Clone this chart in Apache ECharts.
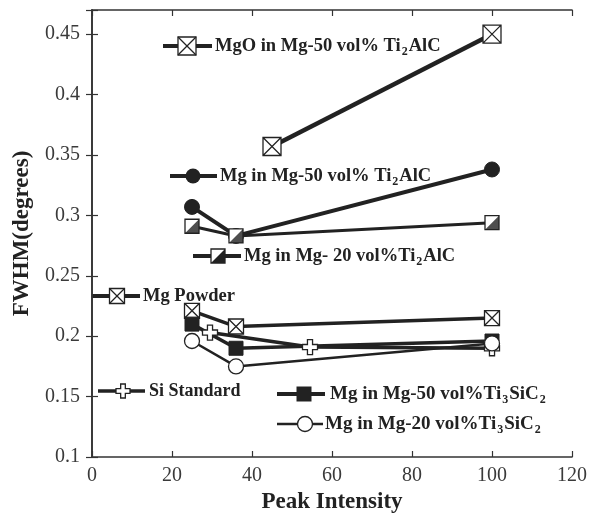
<!DOCTYPE html>
<html><head><meta charset="utf-8">
<script src="https://cdn.jsdelivr.net/npm/echarts@6/dist/echarts.min.js"></script>
<style>html,body{margin:0;padding:0;background:#fff}#c{width:591px;height:521px}</style>
</head><body><div id="c"></div>
<script>
// ---- data ----
const xTickValues = [0, 20, 40, 60, 80, 100, 120];
const yTickValues = [0.1, 0.15, 0.2, 0.25, 0.3, 0.35, 0.4, 0.45];

const mgoX = [45, 100];
const mgoY = [0.357, 0.45];
const mg50Ti2AlCX = [25, 36, 100];
const mg50Ti2AlCY = [0.307, 0.283, 0.338];
const mg20Ti2AlCX = [25, 36, 100];
const mg20Ti2AlCY = [0.291, 0.283, 0.294];
const mgPowderX = [25, 36, 100];
const mgPowderY = [0.221, 0.208, 0.215];
const mg50Ti3SiC2X = [25, 36, 100];
const mg50Ti3SiC2Y = [0.210, 0.190, 0.196];
const siStdX = [29.5, 54.5, 100];
const siStdY = [0.203, 0.191, 0.190];
const mg20Ti3SiC2X = [25, 36, 100];
const mg20Ti3SiC2Y = [0.196, 0.175, 0.194];

const names = {
  mgo: 'MgO in Mg-50 vol% Ti{s|2}AlC',
  mg50Ti2AlC: 'Mg in Mg-50 vol% Ti{s|2}AlC',
  mg20Ti2AlC: 'Mg in Mg- 20 vol%Ti{s|2}AlC',
  mgPowder: 'Mg Powder',
  siStd: 'Si Standard',
  mg50Ti3SiC2: 'Mg in Mg-50 vol%Ti{s|3}SiC{s|2}',
  mg20Ti3SiC2: 'Mg in Mg-20 vol%Ti{s|3}SiC{s|2}'
};

// ---- styling ----
const INK = '#222';
const SERIF = '"Liberation Serif", "Times New Roman", serif';
const zip = (xs, ys) => xs.map((x, i) => [x, ys[i]]);
const P_BOXX = 'path://M0,0 L10,0 L10,10 L0,10 Z M0,0 L10,10 M10,0 L0,10';
const P_TRI = 'path://M10,0 L10,10 L0,10 Z';
const P_PLUS = 'path://M3.3,0 L6.7,0 L6.7,3.3 L10,3.3 L10,6.7 L6.7,6.7 L6.7,10 L3.3,10 L3.3,6.7 L0,6.7 L0,3.3 L3.3,3.3 Z';

function lineSeries(name, xs, ys, symbol, size, fill, lw, bw) {
  return {
    type: 'line', name: name, data: zip(xs, ys),
    symbol: symbol, symbolSize: size, showSymbol: true,
    lineStyle: { color: INK, width: lw },
    itemStyle: { color: fill, borderColor: INK, borderWidth: bw },
    emphasis: { disabled: true }, animation: false
  };
}

const series = [
  lineSeries('MgO', mgoX, mgoY, P_BOXX, 18, '#fff', 4.5, 1.3),
  lineSeries('Mg50Ti2AlC', mg50Ti2AlCX, mg50Ti2AlCY, 'circle', 15, INK, 4, 1),
  lineSeries('Mg20Ti2AlC', mg20Ti2AlCX, mg20Ti2AlCY, 'rect', 14, '#fff', 3, 1.3),
  {
    type: 'scatter', name: 'Mg20Ti2AlC-half', data: zip(mg20Ti2AlCX, mg20Ti2AlCY),
    symbol: P_TRI, symbolSize: 14, itemStyle: { color: INK }, z: 3, silent: true, animation: false
  },
  lineSeries('MgPowder', mgPowderX, mgPowderY, P_BOXX, 15, '#fff', 3.5, 1.3),
  lineSeries('Mg50Ti3SiC2', mg50Ti3SiC2X, mg50Ti3SiC2Y, 'rect', 14, INK, 3.5, 1),
  lineSeries('SiStd', siStdX, siStdY, P_PLUS, 15, '#fff', 3.5, 1.3),
  lineSeries('Mg20Ti3SiC2', mg20Ti3SiC2X, mg20Ti3SiC2Y, 'circle', 15, '#fff', 2.5, 1.3)
];

// ---- in-plot legend keys (graphic) ----
const richSub = { s: { fontSize: 12, fontWeight: 'bold', fontFamily: SERIF, fill: INK, padding: [12, 1, 0, 1] } };
function symbolShapes(kind, cx, cy, sz) {
  const h = sz / 2, st = { stroke: INK, lineWidth: 1.3 };
  switch (kind) {
    case 'boxx': return [
      { type: 'rect', shape: { x: cx - h, y: cy - h, width: sz, height: sz }, style: Object.assign({ fill: '#fff' }, st) },
      { type: 'line', shape: { x1: cx - h, y1: cy - h, x2: cx + h, y2: cy + h }, style: st },
      { type: 'line', shape: { x1: cx + h, y1: cy - h, x2: cx - h, y2: cy + h }, style: st }];
    case 'dot': return [{ type: 'circle', shape: { cx: cx, cy: cy, r: h }, style: { fill: INK } }];
    case 'ring': return [{ type: 'circle', shape: { cx: cx, cy: cy, r: h }, style: Object.assign({ fill: '#fff' }, st) }];
    case 'sq': return [{ type: 'rect', shape: { x: cx - h, y: cy - h, width: sz, height: sz }, style: { fill: INK } }];
    case 'half': return [
      { type: 'rect', shape: { x: cx - h, y: cy - h, width: sz, height: sz }, style: Object.assign({ fill: '#fff' }, st) },
      { type: 'polygon', shape: { points: [[cx + h, cy - h], [cx + h, cy + h], [cx - h, cy + h]] }, style: { fill: INK } }];
    case 'plus': {
      const a = sz / 6;
      return [{ type: 'polygon', shape: { points: [
        [cx - a, cy - h], [cx + a, cy - h], [cx + a, cy - a], [cx + h, cy - a], [cx + h, cy + a], [cx + a, cy + a],
        [cx + a, cy + h], [cx - a, cy + h], [cx - a, cy + a], [cx - h, cy + a], [cx - h, cy - a], [cx - a, cy - a]] },
        style: Object.assign({ fill: '#fff' }, st) }];
    }
  }
}
function legendKey(text, x1, x2, cx, cy, kind, sz, lw, tx, fs) {
  return {
    type: 'group', z: 100, children: [
      { type: 'line', shape: { x1: x1, y1: cy, x2: x2, y2: cy }, style: { stroke: INK, lineWidth: lw } }
    ].concat(symbolShapes(kind, cx, cy, sz)).concat([
      { type: 'text', x: tx, y: cy, style: { text: text, fill: INK, font: 'bold ' + (fs || 18) + 'px ' + SERIF, verticalAlign: 'middle', rich: richSub } }
    ])
  };
}
const graphics = [
  legendKey(names.mgo, 163, 212, 187, 46, 'boxx', 18, 4, 215, 18.5),
  legendKey(names.mg50Ti2AlC, 170, 217, 193, 176, 'dot', 15, 4, 220, 18.5),
  legendKey(names.mg20Ti2AlC, 193, 241, 218, 256, 'half', 14, 4, 244, 18.5),
  legendKey(names.mgPowder, 92, 140, 117, 296, 'boxx', 15, 4, 143, 18.5),
  legendKey(names.siStd, 98, 145, 123, 391, 'plus', 14, 3.5, 149, 18),
  legendKey(names.mg50Ti3SiC2, 277, 325, 304, 394, 'sq', 15, 4, 330, 19),
  legendKey(names.mg20Ti3SiC2, 277, 323, 305, 424, 'ring', 15, 2.5, 325, 19)
];

const axisLine = { show: true, lineStyle: { color: '#333', width: 1.6 } };
const tick = { show: true, inside: true, length: 6, lineStyle: { color: '#333', width: 1.2 } };
const tickLabel = { fontFamily: SERIF, fontSize: 20, color: '#3a3a3a' };
const yFmt = v => (Math.abs(v * 20 - Math.round(v * 20)) < 1e-6 ? String(+v.toFixed(2)) : '');

const option = {
  backgroundColor: '#fff',
  animation: false,
  grid: { left: 92, top: 10, right: 19, bottom: 64 },
  xAxis: [
    { type: 'value', min: xTickValues[0], max: xTickValues[xTickValues.length - 1], interval: 20, position: 'bottom',
      axisLine: axisLine, axisTick: tick, splitLine: { show: false },
      axisLabel: Object.assign({ margin: 9, formatter: v => (xTickValues.indexOf(v) >= 0 ? String(v) : '') }, tickLabel),
      name: 'Peak Intensity', nameLocation: 'middle', nameGap: 34,
      nameTextStyle: { fontFamily: SERIF, fontWeight: 'bold', fontSize: 23, color: INK } },
    { type: 'value', min: xTickValues[0], max: xTickValues[xTickValues.length - 1], interval: 20, position: 'top',
      axisLine: axisLine, axisTick: tick, axisLabel: { show: false }, splitLine: { show: false } }
  ],
  yAxis: [
    { type: 'value', min: yTickValues[0], max: 0.47, interval: 0.05, position: 'left',
      axisLine: axisLine, axisTick: tick, splitLine: { show: false },
      axisLabel: Object.assign({ margin: 12, formatter: yFmt }, tickLabel),
      name: 'FWHM(degrees)', nameLocation: 'middle', nameGap: 58,
      nameTextStyle: { fontFamily: SERIF, fontWeight: 'bold', fontSize: 23, color: INK } },
    { type: 'value', min: yTickValues[0], max: 0.47, interval: 0.05, position: 'right',
      axisLine: axisLine, axisTick: tick, axisLabel: { show: false }, splitLine: { show: false } }
  ],
  series: series,
  graphic: graphics
};
const chart = echarts.init(document.getElementById('c'), null, { renderer: 'canvas' });
chart.setOption(option);
</script></body></html>
